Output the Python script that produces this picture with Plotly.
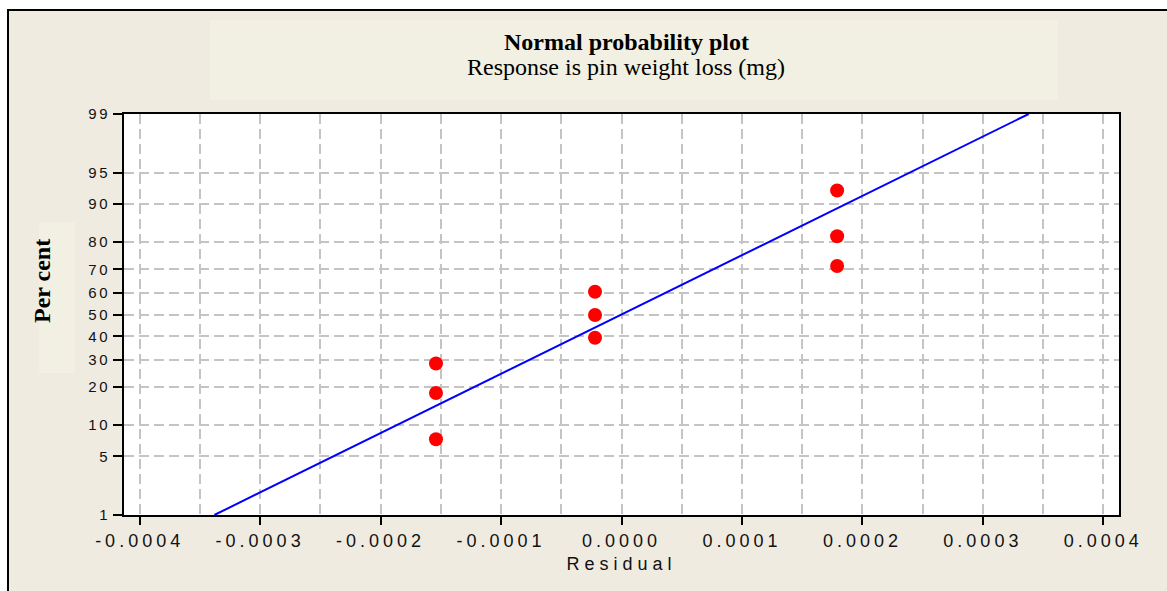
from statistics import NormalDist
import plotly.graph_objects as go

# ---------------- data ----------------
residual = [-0.000154, -0.000154, -0.000154,
            -0.000022, -0.000022, -0.000022,
            0.000179, 0.000179, 0.000179]
percent = [7.4, 18.1, 28.5, 39.4, 49.8, 60.4, 71.3, 81.8, 92.5]

fit_residual = [-0.000338, 0.000338]
fit_percent = [1, 99]

y_tick_percent = [1, 5, 10, 20, 30, 40, 50, 60, 70, 80, 90, 95, 99]
y_tick_labels = ["1", "5", "10", "20", "30", "40", "50", "60", "70", "80", "90", "95", "99"]
x_tick_values = [-0.0004, -0.0003, -0.0002, -0.0001, 0.0, 0.0001, 0.0002, 0.0003, 0.0004]
x_tick_labels = ["-0.0004", "-0.0003", "-0.0002", "-0.0001", "0.0000",
                 "0.0001", "0.0002", "0.0003", "0.0004"]

title_text = "Normal probability plot"
subtitle_text = "Response is pin weight loss (mg)"
x_title = "Residual"
y_title = "Per cent"

# ---------------- probability scale ----------------
nd = NormalDist()


def probit(p):
    return nd.inv_cdf(p / 100.0)


# ---------------- geometry ----------------
W, H = 1167, 591
L, R, T, B = 124, 48, 114, 76
PW, PH = W - L - R, H - T - B


def px(xp):
    return (xp - L) / PW


def py(yp):
    return (H - B - yp) / PH


BG = "#EFEBE1"
BOX = "#F2F0E2"
GRID = "#C4C4C4"
TXT = "#111111"

fig = go.Figure()
fig.add_trace(go.Scatter(
    x=fit_residual, y=[probit(p) for p in fit_percent],
    mode="lines", line=dict(color="#0000FF", width=2),
    hoverinfo="skip", showlegend=False))
fig.add_trace(go.Scatter(
    x=residual, y=[probit(p) for p in percent],
    mode="markers", marker=dict(color="#FF0000", size=14, line=dict(width=0)),
    showlegend=False))

shapes = [
    dict(type="rect", xref="paper", yref="paper", layer="below",
         x0=px(8), x1=px(1200), y0=py(620), y1=py(10),
         fillcolor=BG, line=dict(color="black", width=2)),
    dict(type="rect", xref="paper", yref="paper", layer="below",
         x0=px(210), x1=px(1058), y0=py(100), y1=py(20),
         fillcolor=BOX, line=dict(width=0)),
    dict(type="rect", xref="paper", yref="paper", layer="below",
         x0=px(39), x1=px(75), y0=py(373), y1=py(222),
         fillcolor=BOX, line=dict(width=0)),
    dict(type="rect", xref="paper", yref="paper", layer="below",
         x0=0, x1=1, y0=0, y1=1, fillcolor="white", line=dict(width=0)),
]

annotations = [
    dict(text="<b>" + title_text + "</b>", xref="paper", yref="paper",
         x=px(626), y=py(42), xanchor="center", yanchor="middle", showarrow=False,
         font=dict(family="Liberation Serif", size=24, color="black")),
    dict(text=subtitle_text, xref="paper", yref="paper",
         x=px(626), y=py(67), xanchor="center", yanchor="middle", showarrow=False,
         font=dict(family="Liberation Serif", size=24, color="black")),
    dict(text="<b>" + y_title + "</b>", xref="paper", yref="paper",
         x=px(42), y=py(281), xanchor="center", yanchor="middle", showarrow=False,
         textangle=-90,
         font=dict(family="Liberation Serif", size=24, color="black")),
]

fig.update_layout(
    width=W, height=H, autosize=False,
    margin=dict(l=L, r=R, t=T, b=B, pad=0),
    paper_bgcolor="white", plot_bgcolor="rgba(0,0,0,0)",
    shapes=shapes, annotations=annotations,
    showlegend=False,
    xaxis=dict(
        range=[-0.000413, 0.000413],
        tickmode="array", tickvals=x_tick_values, ticktext=x_tick_labels,
        ticks="outside", ticklen=8, tickwidth=2, tickcolor="black",
        tickfont=dict(family="Liberation Sans", size=18, color=TXT),
        showline=True, linecolor="black", linewidth=2, mirror=True,
        showgrid=True, gridcolor=GRID, gridwidth=2, griddash="10px,5px",
        zeroline=False,
        minor=dict(tick0=0, dtick=0.00005, showgrid=True, gridcolor=GRID,
                   gridwidth=2, griddash="10px,5px", ticks=""),
        title=dict(text=x_title, standoff=8,
                   font=dict(family="Liberation Sans", size=18, color=TXT)),
    ),
    yaxis=dict(
        range=[probit(1), probit(99)],
        tickmode="array", tickvals=[probit(p) for p in y_tick_percent],
        ticktext=y_tick_labels,
        ticks="outside", ticklen=9, tickwidth=2, tickcolor="black",
        tickfont=dict(family="Liberation Sans", size=15, color=TXT),
        showline=True, linecolor="black", linewidth=2, mirror=True,
        showgrid=True, gridcolor=GRID, gridwidth=2, griddash="10px,5px",
        zeroline=False,
    ),
)

post = """
var gd = document.getElementById('{plot_id}');
gd.querySelectorAll('.xtick text').forEach(function(t){t.style.letterSpacing='4px';});
gd.querySelectorAll('.ytick text').forEach(function(t){t.style.letterSpacing='2.5px';});
gd.querySelectorAll('.g-xtitle text').forEach(function(t){t.style.letterSpacing='5px';});
"""

fig.write_html("out.html", post_script=post)
